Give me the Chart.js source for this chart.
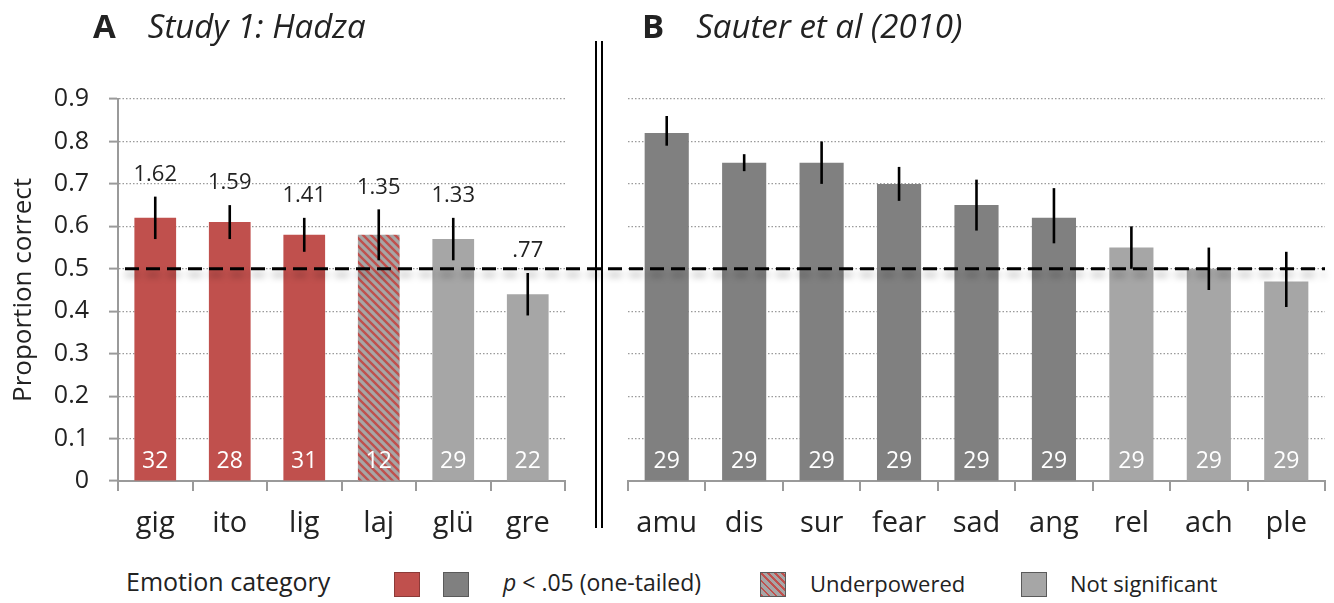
<!DOCTYPE html>
<html>
<head>
<meta charset="utf-8">
<script src="https://cdn.jsdelivr.net/npm/chart.js@4.4.1/dist/chart.umd.min.js"></script>
<style>
  body { margin: 0; background: #fff; font-family: "Open Sans", sans-serif; color: #222; }
  #page { position: relative; width: 1334px; height: 603px; overflow: hidden; }
  .plot { position: absolute; left: 0; top: 0; width: 1334px; height: 541px; }
  .ttl { position: absolute; top: 4px; font-size: 33px; line-height: 44px; }
  .ttl b { font-weight: 700; }
  .ttl em { margin-left: 32px; }
  .vbar { position: absolute; top: 41px; height: 487px; width: 2px; background: #000; }
  .lg { position: absolute; top: 567px; font-size: 22px; line-height: 32px; white-space: nowrap; }
  .sw { position: absolute; top: 572px; width: 26px; height: 25px; box-sizing: border-box; border: 1px solid #5a5a5a; }
</style>
</head>
<body>
<div id="page">
  <div class="plot"><canvas id="hadza"></canvas></div>
  <div class="plot"><canvas id="sauter"></canvas></div>

  <div class="ttl" style="left:93px"><b>A</b><em>Study 1: Hadza</em></div>
  <div class="ttl" style="left:642px"><b>B</b><em>Sauter et al (2010)</em></div>
  <div class="vbar" style="left:595px"></div>
  <div class="vbar" style="left:601px"></div>

  <div class="lg" style="left:126px;font-size:25px;top:565px">Emotion category</div>
  <div class="sw" style="left:394px;background:#c0504d;border-color:#8c3a38"></div>
  <div class="sw" style="left:443px;background:#808080"></div>
  <div class="lg" style="left:503px;font-size:23px;top:566px"><i>p</i> &lt; .05 (one-tailed)</div>
  <div class="sw" style="left:760px;background:repeating-linear-gradient(45deg,#c0504d 0 2px,#a6a6a6 2px 5px)"></div>
  <div class="lg" style="left:810px">Underpowered</div>
  <div class="sw" style="left:1021px;background:#a6a6a6"></div>
  <div class="lg" style="left:1070px">Not significant</div>
</div>

<script>
'use strict';

// Study 1: Hadza
var hadzaLabels = ['gig', 'ito', 'lig', 'laj', 'glü', 'gre'];
var hadzaValues = [0.62, 0.61, 0.58, 0.58, 0.57, 0.44];
var hadzaLow = [0.57, 0.57, 0.54, 0.52, 0.52, 0.39];
var hadzaHigh = [0.67, 0.65, 0.62, 0.64, 0.62, 0.49];
var hadzaEffect = ['1.62', '1.59', '1.41', '1.35', '1.33', '.77'];
var hadzaN = [32, 28, 31, 12, 29, 22];
var hadzaGroup = ['sig', 'sig', 'sig', 'under', 'ns', 'ns'];

// Sauter et al (2010)
var sauterLabels = ['amu', 'dis', 'sur', 'fear', 'sad', 'ang', 'rel', 'ach', 'ple'];
var sauterValues = [0.82, 0.75, 0.75, 0.70, 0.65, 0.62, 0.55, 0.50, 0.47];
var sauterLow = [0.79, 0.73, 0.70, 0.66, 0.59, 0.56, 0.50, 0.45, 0.41];
var sauterHigh = [0.86, 0.77, 0.80, 0.74, 0.71, 0.69, 0.60, 0.55, 0.54];
var sauterN = [29, 29, 29, 29, 29, 29, 29, 29, 29];
var sauterGroup = ['sig', 'sig', 'sig', 'sig', 'sig', 'sig', 'ns', 'ns', 'ns'];

var yTicks = [0, 0.1, 0.2, 0.3, 0.4, 0.5, 0.6, 0.7, 0.8, 0.9];
var chance = 0.5;

var FONT = '"Open Sans", sans-serif';
var RED = '#c0504d', DARK = '#808080', LIGHT = '#a6a6a6', GRID = '#9a9a9a';

function hatch() {
    var c = document.createElement('canvas');
    c.width = c.height = 8;
    var g = c.getContext('2d');
    g.fillStyle = LIGHT;
    g.fillRect(0, 0, 8, 8);
    g.strokeStyle = RED;
    g.lineWidth = 2.4;
    g.beginPath();
    g.moveTo(-4, 4); g.lineTo(4, 12);
    g.moveTo(0, 0); g.lineTo(8, 8);
    g.moveTo(4, -4); g.lineTo(12, 4);
    g.stroke();
    return g.createPattern(c, 'repeat');
}

var hadzaChart;

var overlay = {
    id: 'overlay',
    afterDatasetsDraw: function (chart, args, o) {
        var ctx = chart.ctx, xs = chart.scales.x, ys = chart.scales.y;
        var y0 = ys.getPixelForValue(0);
        ctx.save();
        ctx.textAlign = 'center';
        ctx.textBaseline = 'middle';

        // sample sizes inside the bars
        ctx.fillStyle = '#fff';
        ctx.font = '23px ' + FONT;
        o.n.forEach(function (v, i) {
            ctx.fillText(String(v), xs.getPixelForValue(i), y0 - 20);
        });

        // chance line, spans both panels
        if (o.chanceLine) {
            var yc = ys.getPixelForValue(chance);
            var xStart = hadzaChart.chartArea.left + 7;
            ctx.save();
            ctx.strokeStyle = '#000';
            ctx.lineWidth = 3;
            ctx.setLineDash([14, 7]);
            ctx.shadowColor = 'rgba(0,0,0,0.35)';
            ctx.shadowBlur = 7;
            ctx.shadowOffsetY = 6;
            ctx.beginPath();
            ctx.moveTo(xStart, yc);
            ctx.lineTo(chart.chartArea.right, yc);
            ctx.stroke();
            ctx.restore();
        }

        // error bars
        ctx.strokeStyle = '#000';
        ctx.lineWidth = 2.6;
        o.low.forEach(function (lo, i) {
            var x = xs.getPixelForValue(i);
            ctx.beginPath();
            ctx.moveTo(x, ys.getPixelForValue(lo));
            ctx.lineTo(x, ys.getPixelForValue(o.high[i]));
            ctx.stroke();
        });

        // effect sizes above the error bars
        if (o.effect) {
            ctx.fillStyle = '#222';
            ctx.font = '22px ' + FONT;
            o.effect.forEach(function (t, i) {
                ctx.fillText(t, xs.getPixelForValue(i), ys.getPixelForValue(o.high[i]) - 22);
            });
        }
        ctx.restore();
    }
};

function makeChart(id, labels, values, low, high, n, groups, effect, side) {
    var under = hatch();
    var colors = groups.map(function (g) {
        if (g === 'under') return under;
        if (g === 'ns') return LIGHT;
        return side === 'left' ? RED : DARK;
    });
    var left = side === 'left';
    return new Chart(document.getElementById(id), {
        type: 'bar',
        data: {
            labels: labels,
            datasets: [{
                data: values,
                backgroundColor: colors,
                borderWidth: 0,
                categoryPercentage: 1,
                barPercentage: left ? 0.56 : 0.57
            }]
        },
        options: {
            responsive: true,
            maintainAspectRatio: false,
            animation: false,
            events: [],
            layout: {
                padding: left ? { top: 99, right: 769, left: 0, bottom: 0 }
                              : { top: 99, right: 9, left: 628, bottom: 0 }
            },
            plugins: {
                legend: { display: false },
                tooltip: { enabled: false },
                overlay: { n: n, low: low, high: high, effect: effect, chanceLine: !left }
            },
            scales: {
                x: {
                    afterFit: function (s) { s.height = 60; },
                    ticks: { font: { size: 29, family: FONT }, color: '#222', padding: 15 },
                    grid: { offset: true, drawOnChartArea: false, tickLength: 10, color: GRID, lineWidth: 2 },
                    border: { color: GRID, width: 2 }
                },
                y: {
                    min: 0,
                    max: 0.9,
                    afterFit: function (s) { s.width = left ? 118 : 0; },
                    afterBuildTicks: function (s) {
                        s.ticks = yTicks.map(function (v) { return { value: v }; });
                    },
                    ticks: {
                        display: left,
                        font: { size: 25, family: FONT },
                        color: '#222',
                        padding: 20,
                        callback: function (v) { return v === 0 ? '0' : v.toFixed(1); }
                    },
                    grid: {
                        color: GRID,
                        lineWidth: 1.2,
                        drawTicks: left,
                        tickLength: 9,
                        tickColor: GRID,
                        tickWidth: 2,
                        tickBorderDash: []
                    },
                    border: { display: left, color: GRID, width: 2, dash: [1.5, 2] },
                    title: {
                        display: left,
                        text: 'Proportion correct',
                        font: { size: 26, family: FONT },
                        color: '#222',
                        padding: { top: 8, bottom: 0 }
                    }
                }
            }
        },
        plugins: [overlay]
    });
}

hadzaChart = makeChart('hadza', hadzaLabels, hadzaValues, hadzaLow, hadzaHigh,
    hadzaN, hadzaGroup, hadzaEffect, 'left');
makeChart('sauter', sauterLabels, sauterValues, sauterLow, sauterHigh,
    sauterN, sauterGroup, null, 'right');
</script>
</body>
</html>
